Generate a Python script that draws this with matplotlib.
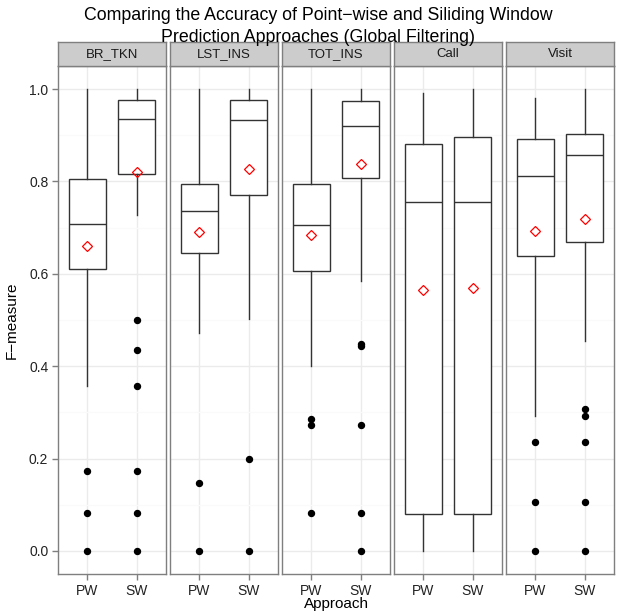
import matplotlib
matplotlib.use("Agg")
import matplotlib.pyplot as plt

plt.rcParams['font.family'] = ['Liberation Sans', 'DejaVu Sans']

facets = ["BR_TKN", "LST_INS", "TOT_INS", "Call", "Visit"]
approaches = ["PW", "SW"]

# per facet: [PW, SW]
q1     = [[0.611, 0.816], [0.646, 0.770], [0.606, 0.807], [0.079, 0.079], [0.638, 0.668]]
median = [[0.707, 0.936], [0.737, 0.932], [0.706, 0.921], [0.755, 0.755], [0.811, 0.857]]
q3     = [[0.805, 0.977], [0.795, 0.976], [0.795, 0.975], [0.882, 0.896], [0.893, 0.902]]
whislo = [[0.358, 0.728], [0.472, 0.502], [0.400, 0.584], [0.000, 0.000], [0.293, 0.455]]
whishi = [[1.000, 1.000], [1.000, 1.000], [1.000, 1.000], [0.992, 1.000], [0.980, 1.000]]
means  = [[0.660, 0.821], [0.691, 0.826], [0.685, 0.837], [0.564, 0.569], [0.693, 0.718]]
outliers = [
    [[0.173, 0.082, 0.0], [0.500, 0.436, 0.357, 0.173, 0.082, 0.0]],
    [[0.147, 0.0], [0.200, 0.0]],
    [[0.286, 0.273, 0.083], [0.449, 0.444, 0.273, 0.083, 0.0]],
    [[], []],
    [[0.235, 0.105, 0.0], [0.307, 0.292, 0.235, 0.105, 0.0]],
]

W, H = 620, 614
fig = plt.figure(figsize=(W / 100, H / 100), dpi=100)

panel_left0 = 58
panel_w = 108
gap = 4
panel_top = 66
panel_bot = 574
strip_top = 42

grey50 = "#7F7F7F"
grid_major = "#EBEBEB"
grid_minor = "#FAFAFA"
txt_col = "#222222"

for i, fac in enumerate(facets):
    x0 = panel_left0 + i * (panel_w + gap)
    ax = fig.add_axes([x0 / W, 1 - panel_bot / H, panel_w / W, (panel_bot - panel_top) / H])
    stats = []
    for j, ap in enumerate(approaches):
        stats.append(dict(label=ap, q1=q1[i][j], med=median[i][j], q3=q3[i][j],
                          whislo=whislo[i][j], whishi=whishi[i][j],
                          fliers=outliers[i][j], mean=means[i][j]))
    ax.bxp(stats, positions=[1, 2], widths=0.77, showcaps=False, showmeans=True,
           patch_artist=True,
           boxprops=dict(facecolor="white", edgecolor="#333333", linewidth=1.0),
           medianprops=dict(color="#333333", linewidth=1.0),
           whiskerprops=dict(color="#333333", linewidth=1.0),
           flierprops=dict(marker="o", markerfacecolor="black", markeredgecolor="black",
                           markersize=4.3, linestyle="none"),
           meanprops=dict(marker="D", markerfacecolor="none", markeredgecolor="red",
                          markersize=5, markeredgewidth=0.9),
           zorder=3)
    ax.set_xlim(0.4, 2.6)
    ax.set_ylim(-0.05, 1.05)
    ax.set_yticks([0.0, 0.2, 0.4, 0.6, 0.8, 1.0])
    ax.set_yticks([0.1, 0.3, 0.5, 0.7, 0.9], minor=True)
    ax.set_xticks([1, 2])
    ax.set_xticklabels(approaches)
    ax.grid(True, which="major", color=grid_major, linewidth=1.0, zorder=0)
    ax.grid(True, which="minor", axis="y", color=grid_minor, linewidth=1.0, zorder=0)
    ax.set_axisbelow(True)
    for sp in ax.spines.values():
        sp.set_color(grey50)
        sp.set_linewidth(1.0)
    ax.tick_params(axis="both", which="major", color=grey50, length=4, width=1.0,
                   labelsize=10, labelcolor=txt_col, pad=3)
    ax.tick_params(axis="both", which="minor", length=0)
    if i == 0:
        ax.set_yticklabels(["0.0", "0.2", "0.4", "0.6", "0.8", "1.0"])
    else:
        ax.tick_params(axis="y", which="major", left=False, labelleft=False)

    sax = fig.add_axes([x0 / W, 1 - panel_top / H, panel_w / W, (panel_top - strip_top) / H])
    sax.set_facecolor("#CCCCCC")
    sax.set_xticks([])
    sax.set_yticks([])
    for sp in sax.spines.values():
        sp.set_color(grey50)
        sp.set_linewidth(1.0)
    sax.text(0.5, 0.5, fac, ha="center", va="center", fontsize=9.5, color="#1a1a1a",
             transform=sax.transAxes)

fig.text(318 / W, 1 - 16 / H, "Comparing the Accuracy of Point\u2212wise and Siliding Window",
         ha="center", va="center", fontsize=12.8, color="black")
fig.text(318 / W, 1 - 37 / H, "Prediction Approaches (Global Filtering)",
         ha="center", va="center", fontsize=12.8, color="black")
fig.text(336 / W, 1 - 604 / H, "Approach", ha="center", va="center", fontsize=11, color="black")
fig.text(12 / W, 1 - 320 / H, "F\u2212measure", ha="center", va="center", rotation=90,
         fontsize=11, color="black")

fig.savefig("out.png", dpi=100)
